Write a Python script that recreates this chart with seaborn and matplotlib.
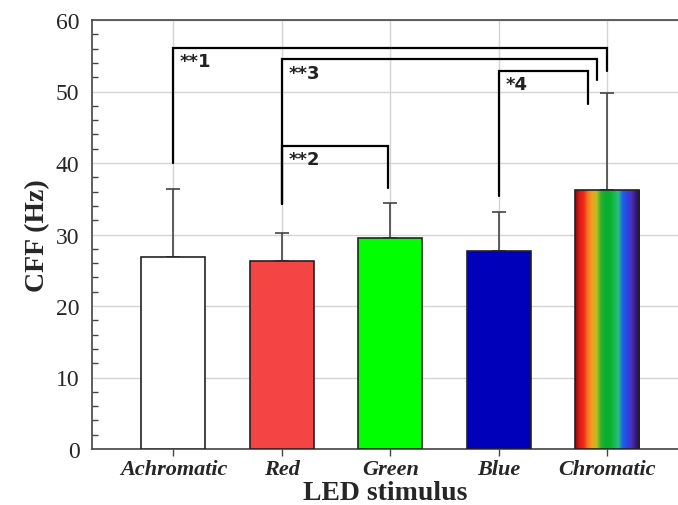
import numpy as np
import pandas as pd
import matplotlib
matplotlib.use("Agg")
import matplotlib.pyplot as plt
from matplotlib.colors import LinearSegmentedColormap
from matplotlib.ticker import MultipleLocator
import seaborn as sns

# --- data ---
stimuli = ["Achromatic", "Red", "Green", "Blue", "Chromatic"]
cff_mean = [26.8, 26.25, 29.55, 27.65, 36.2]
cff_sd = [9.5, 3.95, 4.85, 5.45, 13.6]
bar_colors = ["#ffffff", "#f44444", "#00ff00", "#0000bb", "#ffffff"]

# significance brackets: (left bar, right bar, left foot, top, right foot, label)
brackets = [
    (0, 4, 40.0, 56.1, 52.8, "**1"),
    (1, 2, 34.3, 42.4, 36.5, "**2"),
    (1, 4, 34.3, 54.5, 51.6, "**3"),
    (3, 4, 35.4, 52.9, 48.2, "*4"),
]
bracket_inset = {(0, 4): 0.0, (1, 2): -0.02, (1, 4): -0.10, (3, 4): -0.18}

rainbow = ["#8a0808", "#e01818", "#f02a18", "#f47a20", "#f0a020", "#b8c020",
           "#30b030", "#08b030", "#08b030", "#18b848", "#28c080", "#2060f0",
           "#2848e0", "#4a30c0", "#3a1a80", "#200850"]

sns.set_style("white")
plt.rcParams["font.family"] = ["Liberation Serif", "DejaVu Serif"]

df = pd.DataFrame({"stimulus": stimuli, "cff": cff_mean})

fig = plt.figure(figsize=(6.78, 5.06), dpi=100)
ax = fig.add_axes([92 / 678, 1 - 450 / 506, 1 - 92 / 678, (450 - 21) / 506])

sns.barplot(data=df, x="stimulus", y="cff", hue="stimulus", palette=bar_colors,
            legend=False, width=0.59, edgecolor="#222222", linewidth=1.2,
            saturation=1, errorbar=None, ax=ax, zorder=3)

pos = np.arange(len(stimuli))
ax.errorbar(pos, cff_mean, yerr=[np.zeros(len(cff_sd)), cff_sd], fmt="none",
            ecolor="#444444", elinewidth=1.2, capsize=5, capthick=1.2, zorder=2)

# rainbow fill for the chromatic bar
chrom = ax.patches[4]
bb = chrom.get_bbox()
cmap = LinearSegmentedColormap.from_list("spec", rainbow)
grad = np.linspace(0, 1, 256).reshape(1, -1)
im = ax.imshow(grad, cmap=cmap, aspect="auto", extent=[bb.x0, bb.x1, bb.y0, bb.y1],
               zorder=3.5, interpolation="bilinear")
im.set_clip_path(chrom)
chrom.set_facecolor("none")
chrom.set_zorder(4)

# significance brackets
for i0, i1, y0, ytop, y1, lab in brackets:
    xr = pos[i1] + bracket_inset[(i0, i1)]
    ax.plot([pos[i0], pos[i0], xr, xr], [y0, ytop, ytop, y1], color="black",
            lw=1.6, zorder=5, solid_joinstyle="miter")
    ax.text(pos[i0] + 0.06, ytop - 0.6, lab, family="DejaVu Sans", fontweight="bold",
            fontsize=13, color="#222222", ha="left", va="top", zorder=6)

ax.set_xlim(-0.75, 4.65)
ax.set_ylim(0, 60)
ax.yaxis.set_major_locator(MultipleLocator(10))
ax.yaxis.set_minor_locator(MultipleLocator(2))
ax.grid(True, color="#d4d4d4", lw=1.0, zorder=0)
ax.set_axisbelow(True)

ax.tick_params(axis="y", which="major", direction="in", length=6, width=1,
               color="#444444", labelsize=17, pad=9)
ax.tick_params(axis="y", which="minor", direction="in", length=4, width=1,
               color="#444444", left=True)
ax.tick_params(axis="x", direction="out", length=5, width=1, color="#444444",
               labelsize=16, pad=2, bottom=True)
for t in ax.get_xticklabels():
    t.set_fontweight("bold")
    t.set_fontstyle("italic")

for side in ["left", "bottom", "top"]:
    ax.spines[side].set_color("#444444")
    ax.spines[side].set_linewidth(1.2)
ax.spines["right"].set_visible(False)

ax.set_xlabel("LED stimulus", fontsize=20, fontweight="bold", labelpad=1)
ax.set_ylabel("CFF (Hz)", fontsize=20, fontweight="bold", labelpad=4)

fig.savefig("out.png", dpi=100)
